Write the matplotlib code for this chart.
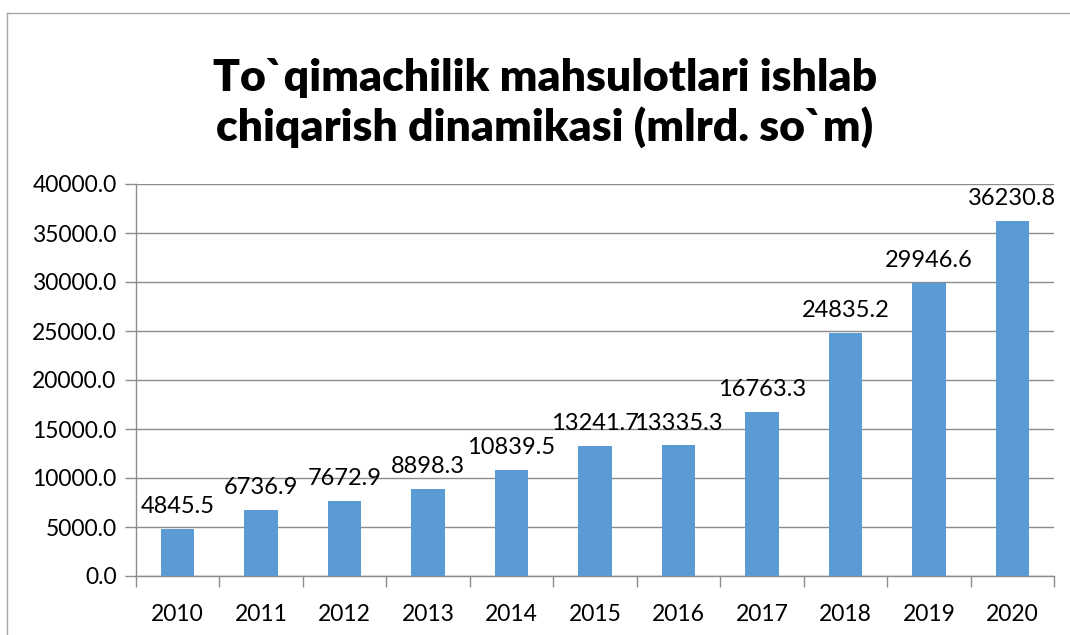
import numpy as np
import matplotlib.pyplot as plt
from matplotlib.lines import Line2D

### data
years = ['2010', '2011', '2012', '2013', '2014', '2015', '2016', '2017', '2018', '2019', '2020']
values = [4845.5, 6736.9, 7672.9, 8898.3, 10839.5, 13241.7, 13335.3, 16763.3, 24835.2, 29946.6, 36230.8]
yticks = [0, 5000, 10000, 15000, 20000, 25000, 30000, 35000, 40000]
title = 'To`qimachilik mahsulotlari ishlab\nchiqarish dinamikasi (mlrd. so`m)'

plt.rcParams['font.family'] = ['Lato', 'DejaVu Sans']

BAR_COLOR = '#5B9BD5'
GRID_COLOR = '#8c8c8c'

fig = plt.figure(figsize=(10.7, 6.35), dpi=100)
ax = fig.add_axes([136 / 1070, 1 - 576 / 635, (1054 - 136) / 1070, (576 - 184) / 635])

x = np.arange(len(years))
bars = ax.bar(x, values, width=0.4, color=BAR_COLOR, zorder=3)
for xi, v in zip(x, values):
    ax.text(xi, v + 1200, '{0:.1f}'.format(v), ha='center', va='bottom', fontsize=17, color='black')

ax.set_xlim(-0.5, len(years) - 0.5)
ax.set_ylim(0, 40000)
ax.set_yticks(yticks)
ax.set_yticklabels(['{0:.1f}'.format(t) for t in yticks], fontsize=16.5)
ax.yaxis.grid(True, color=GRID_COLOR, linewidth=1, zorder=0)

# category labels centered, tick marks at boundaries
ax.set_xticks(x)
ax.set_xticklabels(years, fontsize=16.5)
ax.tick_params(axis='x', length=0, pad=20)
ax.set_xticks(np.arange(len(years) + 1) - 0.5, minor=True)
ax.tick_params(axis='x', which='minor', length=8, color=GRID_COLOR, width=1)
ax.tick_params(axis='y', length=8, color=GRID_COLOR, width=1, pad=6)

for side in ['top', 'right']:
    ax.spines[side].set_visible(False)
for side in ['left', 'bottom']:
    ax.spines[side].set_color(GRID_COLOR)
    ax.spines[side].set_linewidth(1)

fig.text(545 / 1070, 1 - 103 / 635, title, ha='center', va='center',
         fontsize=32, fontweight='heavy', linespacing=1.22)

# outer chart frame
fx = 7 / 1070
fy = 1 - 13 / 635
fig.add_artist(Line2D([fx, 1.0], [fy, fy], transform=fig.transFigure, color='#a6a6a6', linewidth=1))
fig.add_artist(Line2D([fx, fx], [0, fy], transform=fig.transFigure, color='#a6a6a6', linewidth=1))

fig.savefig('out.png', dpi=100)
